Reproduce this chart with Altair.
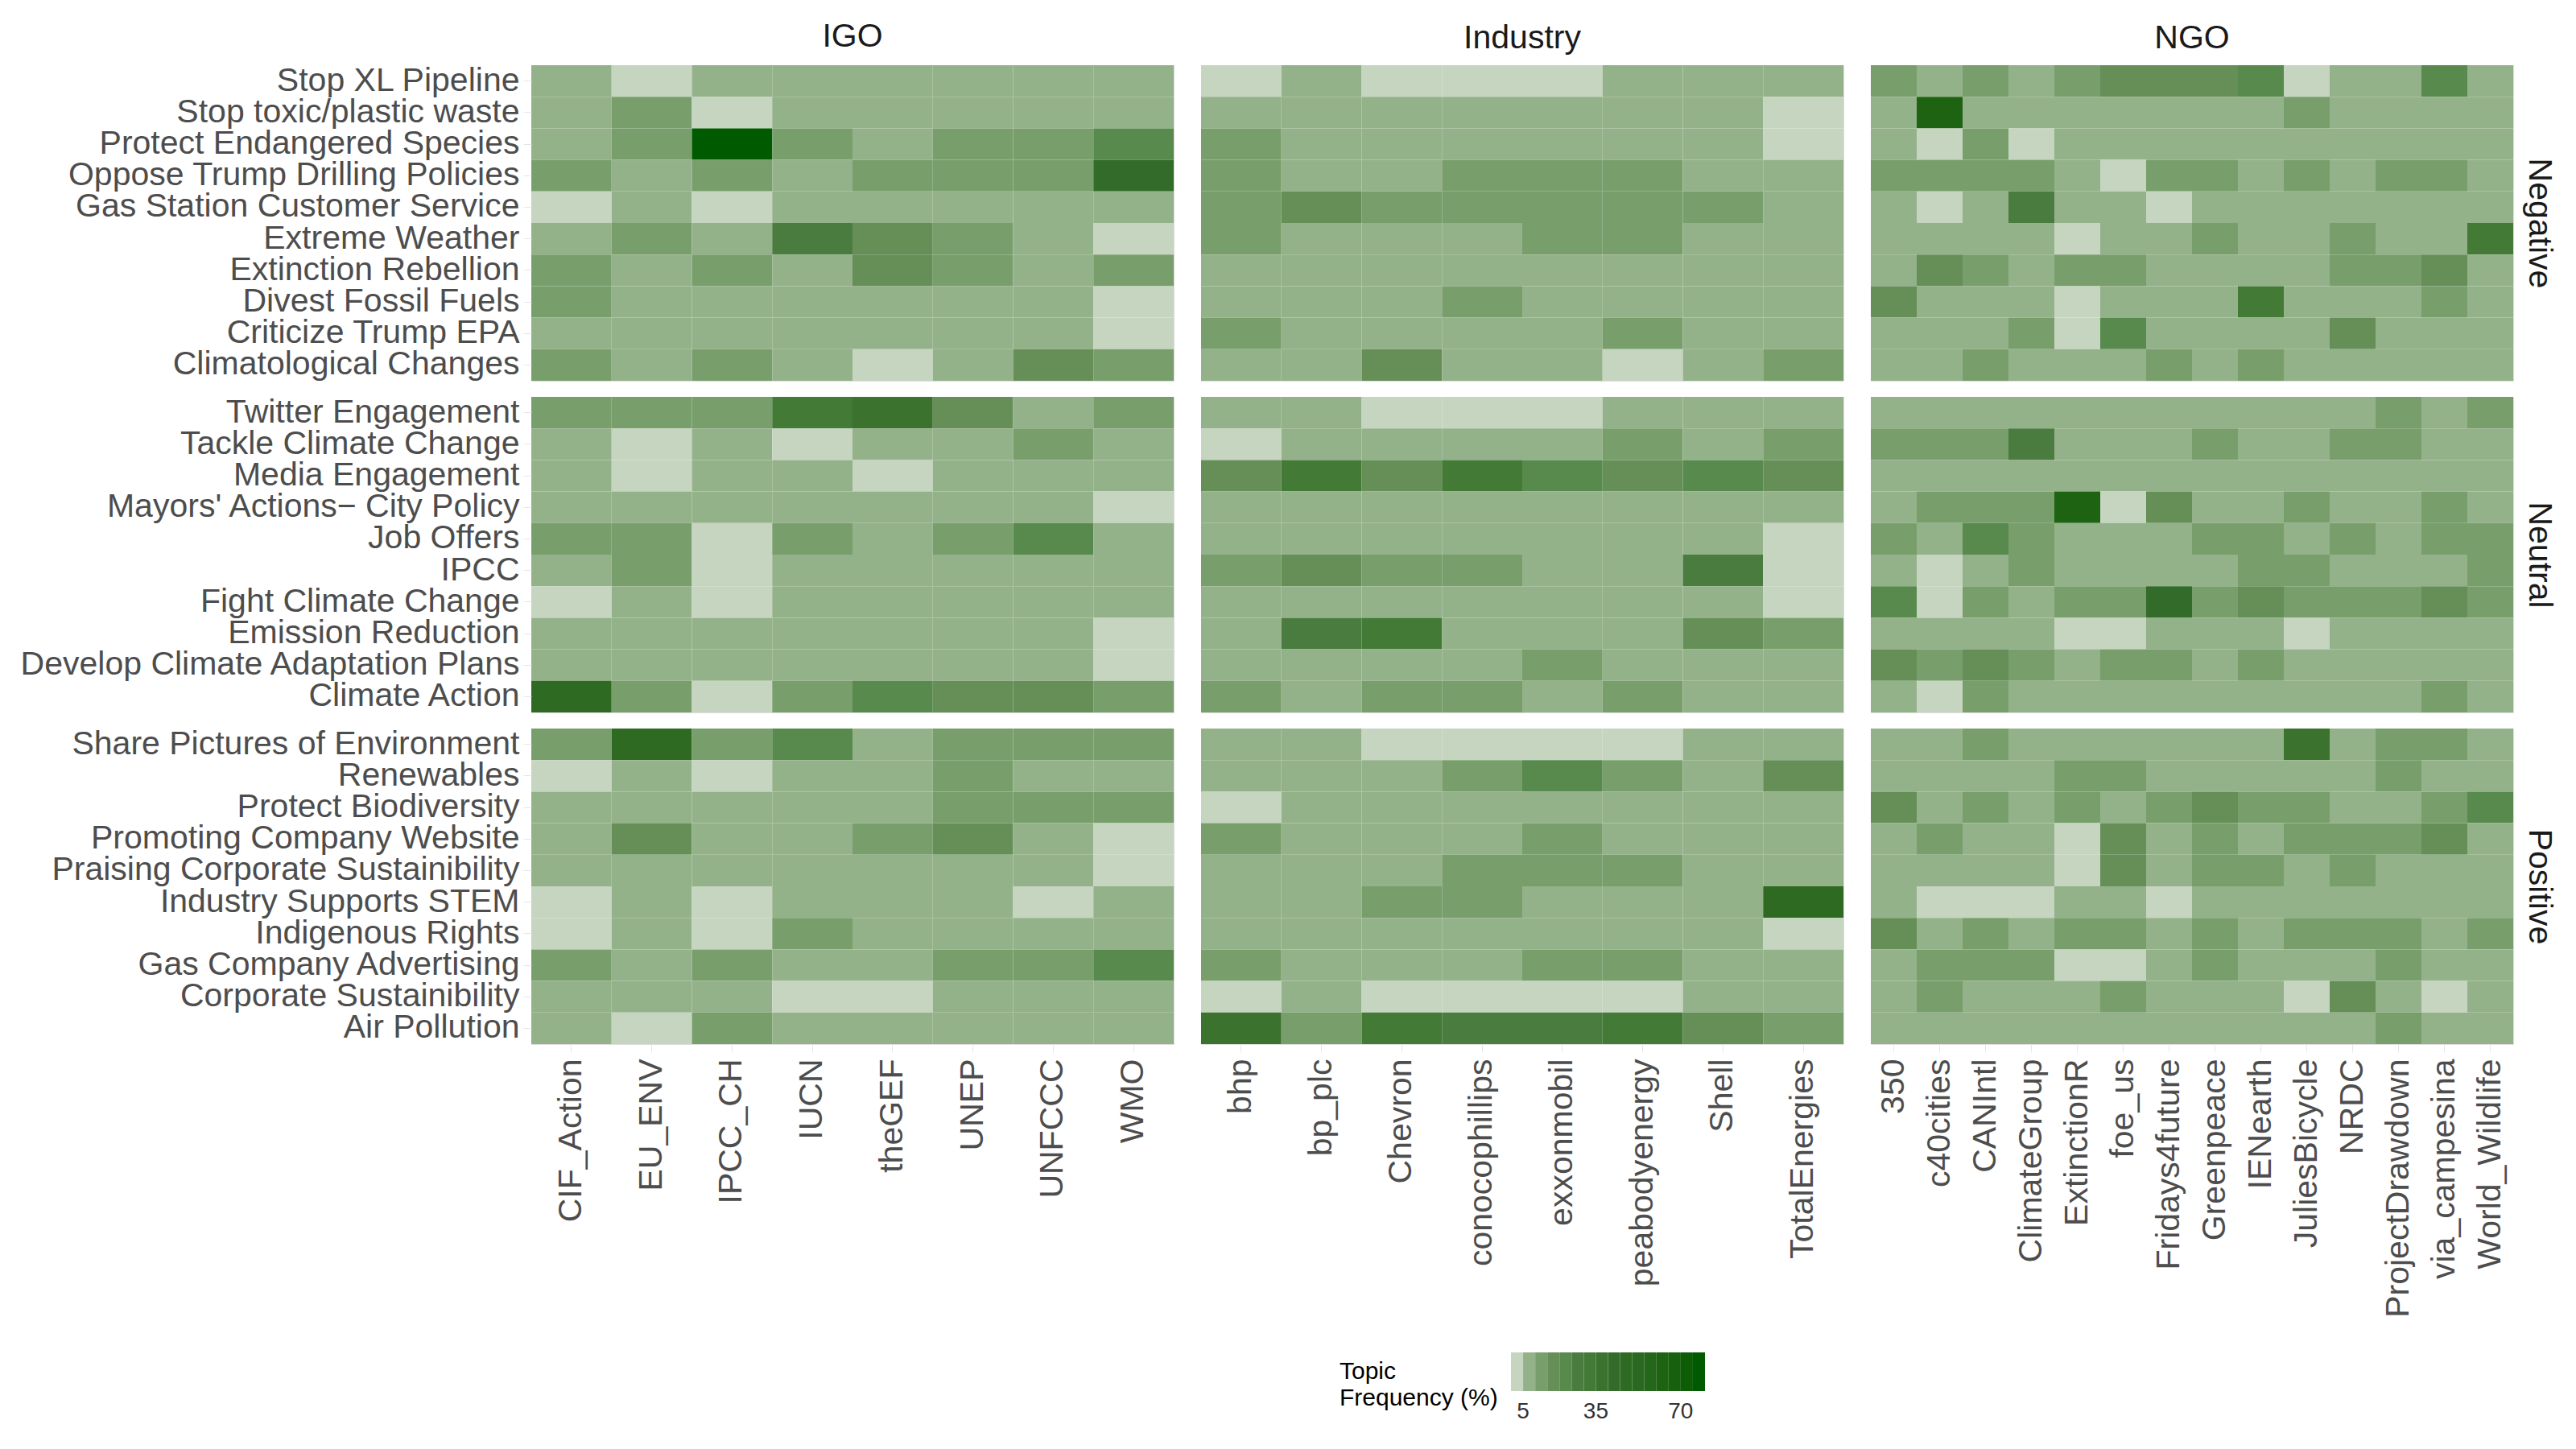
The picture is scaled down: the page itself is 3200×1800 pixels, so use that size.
import altair as alt
import pandas as pd

FONT = "Liberation Sans"

groups = ["IGO", "Industry", "NGO"]
sentiments = ["Negative", "Neutral", "Positive"]

igo_orgs = ["CIF_Action", "EU_ENV", "IPCC_CH", "IUCN", "theGEF", "UNEP", "UNFCCC", "WMO"]
industry_orgs = ["bhp", "bp_plc", "Chevron", "conocophillips", "exxonmobil",
                 "peabodyenergy", "Shell", "TotalEnergies"]
ngo_orgs = ["350", "c40cities", "CANIntl", "ClimateGroup", "ExtinctionR", "foe_us",
            "Fridays4future", "Greenpeace", "IENearth", "JuliesBicycle", "NRDC",
            "ProjectDrawdown", "via_campesina", "World_Wildlife"]

negative_topics = ["Stop XL Pipeline", "Stop toxic/plastic waste", "Protect Endangered Species",
                   "Oppose Trump Drilling Policies", "Gas Station Customer Service",
                   "Extreme Weather", "Extinction Rebellion", "Divest Fossil Fuels",
                   "Criticize Trump EPA", "Climatological Changes"]
neutral_topics = ["Twitter Engagement", "Tackle Climate Change", "Media Engagement",
                  "Mayors' Actions\u2212 City Policy", "Job Offers", "IPCC",
                  "Fight Climate Change", "Emission Reduction",
                  "Develop Climate Adaptation Plans", "Climate Action"]
positive_topics = ["Share Pictures of Environment", "Renewables", "Protect Biodiversity",
                   "Promoting Company Website", "Praising Corporate Sustainibility",
                   "Industry Supports STEM", "Indigenous Rights", "Gas Company Advertising",
                   "Corporate Sustainibility", "Air Pollution"]

# Topic frequency (%) — rows follow the topic lists, columns follow the org lists
igo_negative = [
    [7, 2, 7, 7, 7, 7, 7, 7],
    [7, 12, 2, 7, 7, 7, 7, 7],
    [7, 12, 78, 12, 7, 12, 12, 22],
    [12, 7, 12, 7, 12, 12, 12, 40],
    [2, 7, 2, 7, 7, 7, 7, 7],
    [7, 12, 7, 27, 17, 12, 7, 2],
    [12, 7, 12, 7, 17, 12, 7, 12],
    [12, 7, 7, 7, 7, 7, 7, 2],
    [7, 7, 7, 7, 7, 7, 7, 2],
    [12, 7, 12, 7, 2, 7, 17, 12],
]
igo_neutral = [
    [12, 12, 12, 32, 37, 17, 7, 12],
    [7, 2, 7, 2, 7, 7, 12, 7],
    [7, 2, 7, 7, 2, 7, 7, 7],
    [7, 7, 7, 7, 7, 7, 7, 2],
    [12, 12, 2, 12, 7, 12, 22, 7],
    [7, 12, 2, 7, 7, 7, 7, 7],
    [2, 7, 2, 7, 7, 7, 7, 7],
    [7, 7, 7, 7, 7, 7, 7, 2],
    [7, 7, 7, 7, 7, 7, 7, 2],
    [45, 12, 2, 12, 22, 17, 17, 12],
]
igo_positive = [
    [12, 45, 12, 22, 7, 12, 12, 12],
    [2, 7, 2, 7, 7, 12, 7, 7],
    [7, 7, 7, 7, 7, 12, 12, 12],
    [7, 17, 7, 7, 12, 17, 7, 2],
    [7, 7, 7, 7, 7, 7, 7, 2],
    [2, 7, 2, 7, 7, 7, 2, 7],
    [2, 7, 2, 12, 7, 7, 7, 7],
    [12, 7, 12, 7, 7, 12, 12, 22],
    [7, 7, 7, 2, 2, 7, 7, 7],
    [7, 2, 12, 7, 7, 7, 7, 7],
]
industry_negative = [
    [2, 7, 2, 2, 2, 7, 7, 7],
    [7, 7, 7, 7, 7, 7, 7, 2],
    [12, 7, 7, 7, 7, 7, 7, 2],
    [12, 7, 7, 12, 12, 12, 7, 7],
    [12, 17, 12, 12, 12, 12, 12, 7],
    [12, 7, 7, 7, 12, 12, 7, 7],
    [7, 7, 7, 7, 7, 7, 7, 7],
    [7, 7, 7, 12, 7, 7, 7, 7],
    [12, 7, 7, 7, 7, 12, 7, 7],
    [7, 7, 17, 7, 7, 2, 7, 12],
]
industry_neutral = [
    [7, 7, 2, 2, 2, 7, 7, 7],
    [2, 7, 7, 7, 7, 12, 7, 12],
    [17, 32, 17, 32, 22, 17, 22, 17],
    [7, 7, 7, 7, 7, 7, 7, 7],
    [7, 7, 7, 7, 7, 7, 7, 2],
    [12, 17, 12, 12, 7, 7, 27, 2],
    [7, 7, 7, 7, 7, 7, 7, 2],
    [7, 27, 32, 7, 7, 7, 17, 12],
    [7, 7, 7, 7, 12, 7, 7, 7],
    [12, 7, 12, 12, 7, 12, 7, 7],
]
industry_positive = [
    [7, 7, 2, 2, 2, 2, 7, 7],
    [7, 7, 7, 12, 22, 12, 7, 17],
    [2, 7, 7, 7, 7, 7, 7, 7],
    [12, 7, 7, 7, 12, 7, 7, 7],
    [7, 7, 7, 12, 12, 12, 7, 7],
    [7, 7, 12, 12, 7, 7, 7, 47],
    [7, 7, 7, 7, 7, 7, 7, 2],
    [12, 7, 7, 7, 12, 12, 7, 7],
    [2, 7, 2, 2, 2, 2, 7, 7],
    [37, 12, 32, 27, 27, 32, 17, 12],
]
ngo_negative = [
    [12, 7, 12, 7, 12, 17, 17, 17, 22, 2, 7, 7, 22, 7],
    [7, 62, 7, 7, 7, 7, 7, 7, 7, 12, 7, 7, 7, 7],
    [7, 2, 12, 2, 7, 7, 7, 7, 7, 7, 7, 7, 7, 7],
    [12, 12, 12, 12, 7, 2, 12, 12, 7, 12, 7, 12, 12, 7],
    [7, 2, 7, 27, 7, 7, 2, 7, 7, 7, 7, 7, 7, 7],
    [7, 7, 7, 7, 2, 7, 7, 12, 7, 7, 12, 7, 7, 32],
    [7, 17, 12, 7, 12, 12, 7, 7, 7, 7, 12, 12, 17, 7],
    [17, 7, 7, 7, 2, 7, 7, 7, 32, 7, 7, 7, 12, 7],
    [7, 7, 7, 12, 2, 22, 7, 7, 7, 7, 17, 7, 7, 7],
    [7, 7, 12, 7, 7, 7, 12, 7, 12, 7, 7, 7, 7, 7],
]
ngo_neutral = [
    [7, 7, 7, 7, 7, 7, 7, 7, 7, 7, 7, 12, 7, 12],
    [12, 12, 12, 27, 7, 7, 7, 12, 7, 7, 12, 12, 7, 7],
    [7, 7, 7, 7, 7, 7, 7, 7, 7, 7, 7, 7, 7, 7],
    [7, 12, 12, 12, 62, 2, 17, 7, 7, 12, 7, 7, 12, 7],
    [12, 7, 22, 12, 7, 7, 7, 12, 12, 7, 12, 7, 12, 12],
    [7, 2, 7, 12, 7, 7, 7, 7, 12, 12, 7, 7, 7, 12],
    [22, 2, 12, 7, 12, 12, 40, 12, 17, 12, 12, 12, 17, 12],
    [7, 7, 7, 7, 2, 2, 7, 7, 7, 2, 7, 7, 7, 7],
    [17, 12, 17, 12, 7, 12, 12, 7, 12, 7, 7, 7, 7, 7],
    [7, 2, 12, 7, 7, 7, 7, 7, 7, 7, 7, 7, 12, 7],
]
ngo_positive = [
    [7, 7, 12, 7, 7, 7, 7, 7, 7, 37, 7, 12, 12, 7],
    [7, 7, 7, 7, 12, 12, 7, 7, 7, 7, 7, 12, 7, 7],
    [17, 7, 12, 7, 12, 7, 12, 17, 12, 12, 7, 7, 12, 22],
    [7, 12, 7, 7, 2, 17, 7, 12, 7, 12, 12, 12, 17, 7],
    [7, 7, 7, 7, 2, 17, 7, 12, 12, 7, 12, 7, 7, 7],
    [7, 2, 2, 2, 7, 7, 2, 7, 7, 7, 7, 7, 7, 7],
    [17, 7, 12, 7, 12, 12, 7, 12, 7, 12, 12, 12, 7, 12],
    [7, 12, 12, 12, 2, 2, 7, 12, 7, 7, 7, 12, 7, 7],
    [7, 12, 7, 7, 7, 12, 7, 7, 7, 2, 17, 7, 2, 7],
    [7, 7, 7, 7, 7, 7, 7, 7, 7, 7, 7, 12, 7, 7],
]

org_lists = [igo_orgs, industry_orgs, ngo_orgs]
topic_lists = [negative_topics, neutral_topics, positive_topics]
matrices = {
    ("IGO", "Negative"): igo_negative, ("IGO", "Neutral"): igo_neutral,
    ("IGO", "Positive"): igo_positive,
    ("Industry", "Negative"): industry_negative, ("Industry", "Neutral"): industry_neutral,
    ("Industry", "Positive"): industry_positive,
    ("NGO", "Negative"): ngo_negative, ("NGO", "Neutral"): ngo_neutral,
    ("NGO", "Positive"): ngo_positive,
}

records = []
for gi, g in enumerate(groups):
    for si, s in enumerate(sentiments):
        mat = matrices[(g, s)]
        for ti, t in enumerate(topic_lists[si]):
            for oi, o in enumerate(org_lists[gi]):
                records.append({"group": g, "sentiment": s, "topic": t, "org": o,
                                "value": mat[ti][oi]})
df = pd.DataFrame(records)

thresholds = [5, 10, 15, 20, 25, 30, 35, 40, 45, 50, 55, 60, 65, 70, 75]
palette = ["#c6d5bf", "#94b289", "#789f6b", "#658f57", "#578a4c", "#4a7c3f",
           "#427a36", "#3a722e", "#336c2a", "#2e6a22", "#2a6a20", "#24661a",
           "#1e6312", "#16600e", "#0c5d06", "#005a00"]

legend = alt.Legend(
    title=["", "Topic", "Frequency (%)"], type="gradient", orient="none",
    legendX=1004, legendY=1599, direction="horizontal",
    gradientLength=241, gradientThickness=48, gradientStrokeWidth=0,
    titleOrient="left", titleFont=FONT, titleFontSize=30,
    titleFontWeight="normal", titleLimit=500,
    titleColor="#000000", titlePadding=16, titleAlign="left", titleLineHeight=33,
    labelFont=FONT, labelFontSize=28, labelColor="#333333", labelOverlap=False,
    labelOffset=12,
    labelExpr="indexof([5, 35, 70], datum.value) >= 0 ? datum.label : ''",
)
color_enc = alt.Color("value:Q",
                      scale=alt.Scale(type="threshold", domain=thresholds, range=palette),
                      legend=legend)

PANEL_W = 798
PANEL_H = 392
TEXT_GREY = "#4d4d4d"
TICK_GREY = "#e6e6e6"

charts = []
for si, s in enumerate(sentiments):
    for gi, g in enumerate(groups):
        orgs = org_lists[gi]
        topics = topic_lists[si]
        sub = df[(df["group"] == g) & (df["sentiment"] == s)]
        if si == 2:
            xaxis = alt.Axis(title=None, labelAngle=270, labelFont=FONT, labelFontSize=41,
                             labelColor=TEXT_GREY, domain=False, grid=False,
                             ticks=True, tickColor=TICK_GREY, tickSize=10,
                             labelPadding=8, labelLimit=1000)
        else:
            xaxis = None
        if gi == 0:
            yaxis = alt.Axis(title=None, labelFont=FONT, labelFontSize=41,
                             labelColor=TEXT_GREY, domain=False, grid=False,
                             ticks=True, tickColor=TICK_GREY, tickSize=10,
                             labelPadding=5, labelLimit=1000, minExtent=646)
        elif gi == 2:
            yaxis = alt.Axis(title=s, orient="right", labels=False, ticks=False,
                             domain=False, grid=False, titleFont=FONT, titleFontSize=41,
                             titleFontWeight="normal", titleColor="#1a1a1a",
                             titlePadding=10, titleAngle=90)
        else:
            yaxis = None
        ch = alt.Chart(sub).mark_rect().encode(
            x=alt.X("org:N", sort=orgs, scale=alt.Scale(domain=orgs), axis=xaxis),
            y=alt.Y("topic:N", sort=topics, scale=alt.Scale(domain=topics), axis=yaxis),
            color=color_enc,
        )
        props = dict(width=PANEL_W, height=PANEL_H)
        if si == 0:
            props["title"] = alt.TitleParams(g, font=FONT, fontSize=41, fontWeight="normal",
                                             color="#1a1a1a", anchor="middle", frame="group",
                                             offset=12)
        charts.append(ch.properties(**props))

chart = alt.concat(*charts, columns=3, bounds="flush",
                   spacing=alt.RowColnumber(row=20, column=34)).properties(
    padding={"left": 5, "top": 16, "right": 5, "bottom": 5},
    background="white",
).configure_view(stroke=None).configure(font=FONT)

chart.save("out.html", embed_options={"renderer": "svg", "actions": False})
